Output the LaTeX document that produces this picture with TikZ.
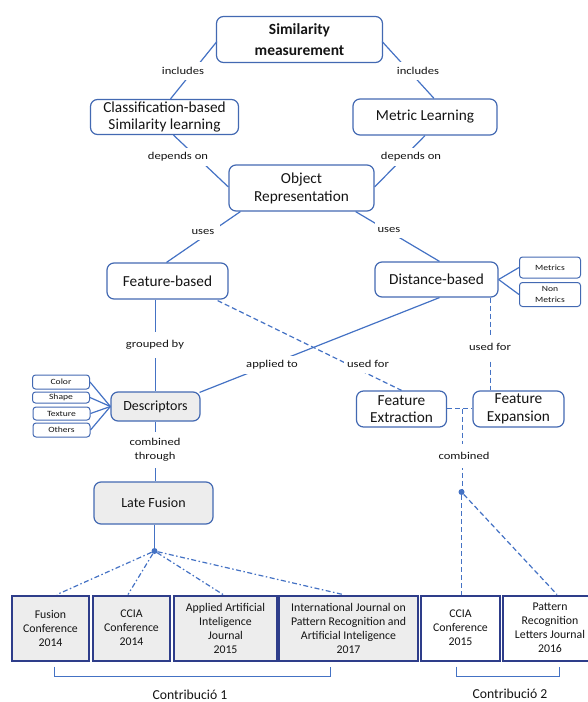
\documentclass[tikz,border=0pt]{standalone}
\usepackage{fontspec}
\setmainfont{Carlito}
\newfontfamily\lblfont{Carlito}[FakeStretch=1.2]
\usetikzlibrary{calc}
\definecolor{lnblue}{HTML}{4472C4}
\definecolor{bxblue}{HTML}{4369B2}
\definecolor{navy}{HTML}{2E3D8A}
\definecolor{fillgray}{HTML}{EDEDED}
\definecolor{txt}{HTML}{141414}
\begin{document}
\begin{tikzpicture}[x=1pt,y=-1pt,
  box/.style={draw=bxblue, line width=1.2pt, rounded corners=7pt, align=center,
    inner sep=0pt, text=txt, font=\fontsize{15.3}{17.5}\selectfont},
  graybox/.style={box, fill=fillgray, font=\fontsize{14}{16}\selectfont},
  tinybox/.style={draw=bxblue, line width=1pt, rounded corners=3pt, align=center,
    inner sep=0pt, text=txt, font=\lblfont\fontsize{8}{11}\selectfont},
  pubbox/.style={draw=navy, line width=2pt, align=center, inner sep=0pt, text=txt,
    font=\fontsize{11.8}{14}\selectfont, minimum height=65pt},
  lbl/.style={fill=white, text=txt, font=\lblfont\fontsize{10.5}{14}\selectfont,
    inner xsep=3pt, inner ysep=5pt, align=center},
  conn/.style={draw=lnblue, line width=1.2pt},
  dconn/.style={conn, dash pattern=on 5pt off 3pt},
  ddconn/.style={conn, dash pattern=on 5pt off 2.5pt on 1.5pt off 2.5pt},
  jdot/.style={circle, fill=lnblue, inner sep=0pt, minimum size=6pt},
  contrib/.style={text=txt, font=\fontsize{13.7}{16}\selectfont, inner sep=0pt}
]
\useasboundingbox (0,0) rectangle (587,702);

% boxes
\node[box, font=\bfseries\fontsize{15.5}{21}\selectfont, minimum width=166pt, minimum height=46pt] (sim) at (299.5,39.5) {Similarity\\measurement};
\node[box, minimum width=148pt, minimum height=35pt] (cls) at (164.5,117) {Classification-based\\Similarity learning};
\node[box, minimum width=144pt, minimum height=36pt] (met) at (425,117) {Metric Learning};
\node[box, minimum width=145pt, minimum height=46pt, font=\fontsize{15.3}{18}\selectfont] (obj) at (301.5,188) {Object\\Representation};
\node[box, minimum width=121pt, minimum height=36pt] (fb) at (167.5,281) {Feature-based};
\node[box, minimum width=123pt, minimum height=35pt] (db) at (436.5,279.5) {Distance-based};
\node[tinybox, minimum width=61pt, minimum height=21pt] (mtr) at (550,267.5) {Metrics};
\node[tinybox, minimum width=61pt, minimum height=24pt] (nmt) at (550,294.5) {Non\\Metrics};
\node[graybox, minimum width=89pt, minimum height=29pt] (desc) at (155.5,406.5) {Descriptors};
\node[tinybox, minimum width=57pt, minimum height=14pt] (color) at (61,382) {Color};
\node[tinybox, minimum width=57pt, minimum height=11pt] (shape) at (61,397.5) {Shape};
\node[tinybox, minimum width=57pt, minimum height=13pt] (texture) at (61.5,413.5) {Texture};
\node[tinybox, minimum width=57pt, minimum height=14pt] (others) at (61.5,430) {Others};
\node[box, minimum width=90pt, minimum height=36pt] (fex) at (401.5,409) {Feature\\Extraction};
\node[box, minimum width=91pt, minimum height=36pt] (fexp) at (518.5,409) {Feature\\Expansion};
\node[graybox, minimum width=119pt, minimum height=42pt] (lf) at (153.5,503) {Late Fusion};

\node[pubbox, fill=fillgray, minimum width=77pt] (b1) at (50.5,628) {Fusion\\Conference\\2014};
\node[pubbox, fill=fillgray, minimum width=77pt] (b2) at (131.5,628) {CCIA\\Conference\\2014};
\node[pubbox, fill=fillgray, minimum width=103pt] (b3) at (225.5,628) {Applied Artificial\\Inteligence\\Journal\\2015};
\node[pubbox, fill=fillgray, minimum width=139pt] (b4) at (348.5,628) {International Journal on\\Pattern Recognition and\\Artificial Inteligence\\2017};
\node[pubbox, fill=white, minimum width=79pt] (b5) at (460.5,628) {CCIA\\Conference\\2015};
\node[pubbox, fill=white, minimum width=94pt] (b6) at (550,628) {Pattern\\Recognition\\Letters Journal\\2016};

\node[jdot] (dot1) at (154.5,551) {};
\node[jdot] (dot2) at (461.5,492) {};

% connectors
\draw[conn] ($(sim.west)+(1,2)$) -- ($(cls.north)+(6,0)$);
\draw[conn] ($(sim.east)+(-1,2)$) -- ($(met.north)+(9,0)$);
\draw[conn] ($(cls.south)+(9,0)$) -- ($(obj.west)+(0,-1)$);
\draw[conn] (met.south) -- ($(obj.east)+(0,-1)$);
\draw[conn] ($(obj.south west)+(12,0)$) -- ($(fb.north)+(-1,0)$);
\draw[conn] ($(obj.south east)+(-19,0)$) -- ($(db.north)+(3,0)$);
\coordinate (fbx) at ($(fb.south)+(-12,0)$);
\draw[conn] (fbx) -- (fbx |- desc.north);
\draw[conn] ($(db.south)+(3,0)$) -- ($(desc.north east)+(-1,1)$);
\draw[dconn] ($(fb.south east)+(-11,1)$) -- (fex.north);
\coordinate (dbx) at ($(db.south east)+(-8.5,0)$);
\draw[dconn] (dbx) -- (dbx |- fexp.north);
\draw[dconn] ($(fex.east)+(0,-0.5)$) -- ($(fexp.west)+(0,-0.5)$);
\coordinate (jn) at ($(fex.east)+(15,-0.5)$);
\draw[dconn] (jn) -- (jn |- dot2);
\draw[conn] (desc.south) -- (desc.south |- lf.north);
\draw[conn] (dot1 |- lf.south) -- (dot1);
\foreach \t in {color,shape,texture,others} \draw[conn] (\t.east) -- (desc.west);
\draw[conn] (db.east) -- (mtr.west);
\draw[conn] (db.east) -- (nmt.west);

\draw[ddconn] (dot1) -- ($(b1.north)+(6.5,0)$);
\draw[ddconn] (dot1) -- ($(b2.north)+(-3.5,0)$);
\draw[ddconn] (dot1) -- ($(b3.north)+(-2.5,0)$);
\draw[ddconn] (dot1) -- ($(b4.north)+(-5.5,0)$);
\draw[dconn] (dot2) -- (dot2 |- b5.north);
\draw[dconn] (dot2) -- ($(b6.north)+(7,0)$);

% brackets
\coordinate (k1a) at ($(b1.south)+(4,5)$);
\coordinate (k1b) at ($(b4.south)+(-18,5)$);
\coordinate (k2a) at ($(b5.south)+(-4,5)$);
\coordinate (k2b) at ($(b6.south)+(9.5,5)$);
\draw[conn] (k1a) -- ++(0,10) -| (k1b);
\draw[conn] (k2a) -- ++(0,10) -| (k2b);
\node[contrib] (c1) at (190,695) {Contribució 1};
\node[contrib] (c2) at (510,694) {Contribució 2};

% labels
\node[lbl] (l1) at (183,71) {includes};
\node[lbl] (l2) at (418,71) {includes};
\node[lbl] (l3) at (178,157) {depends on};
\node[lbl] (l4) at (411,157) {depends on};
\node[lbl, inner xsep=6pt] (l5) at (203,232) {uses};
\node[lbl] (l6) at (389,230) {uses};
\node[lbl, inner ysep=8pt] (l7) at (155,345) {grouped by};
\node[lbl] (l8) at (272,365) {applied to};
\node[lbl] (l9) at (368,364) {used for};
\node[lbl, inner ysep=8pt] (l10) at (490,347) {used for};
\node[lbl, inner ysep=8pt] (l11) at (464,456) {combined};
\node[lbl, inner ysep=6pt] (l12) at (155,450) {combined\\through};
\end{tikzpicture}
\end{document}
